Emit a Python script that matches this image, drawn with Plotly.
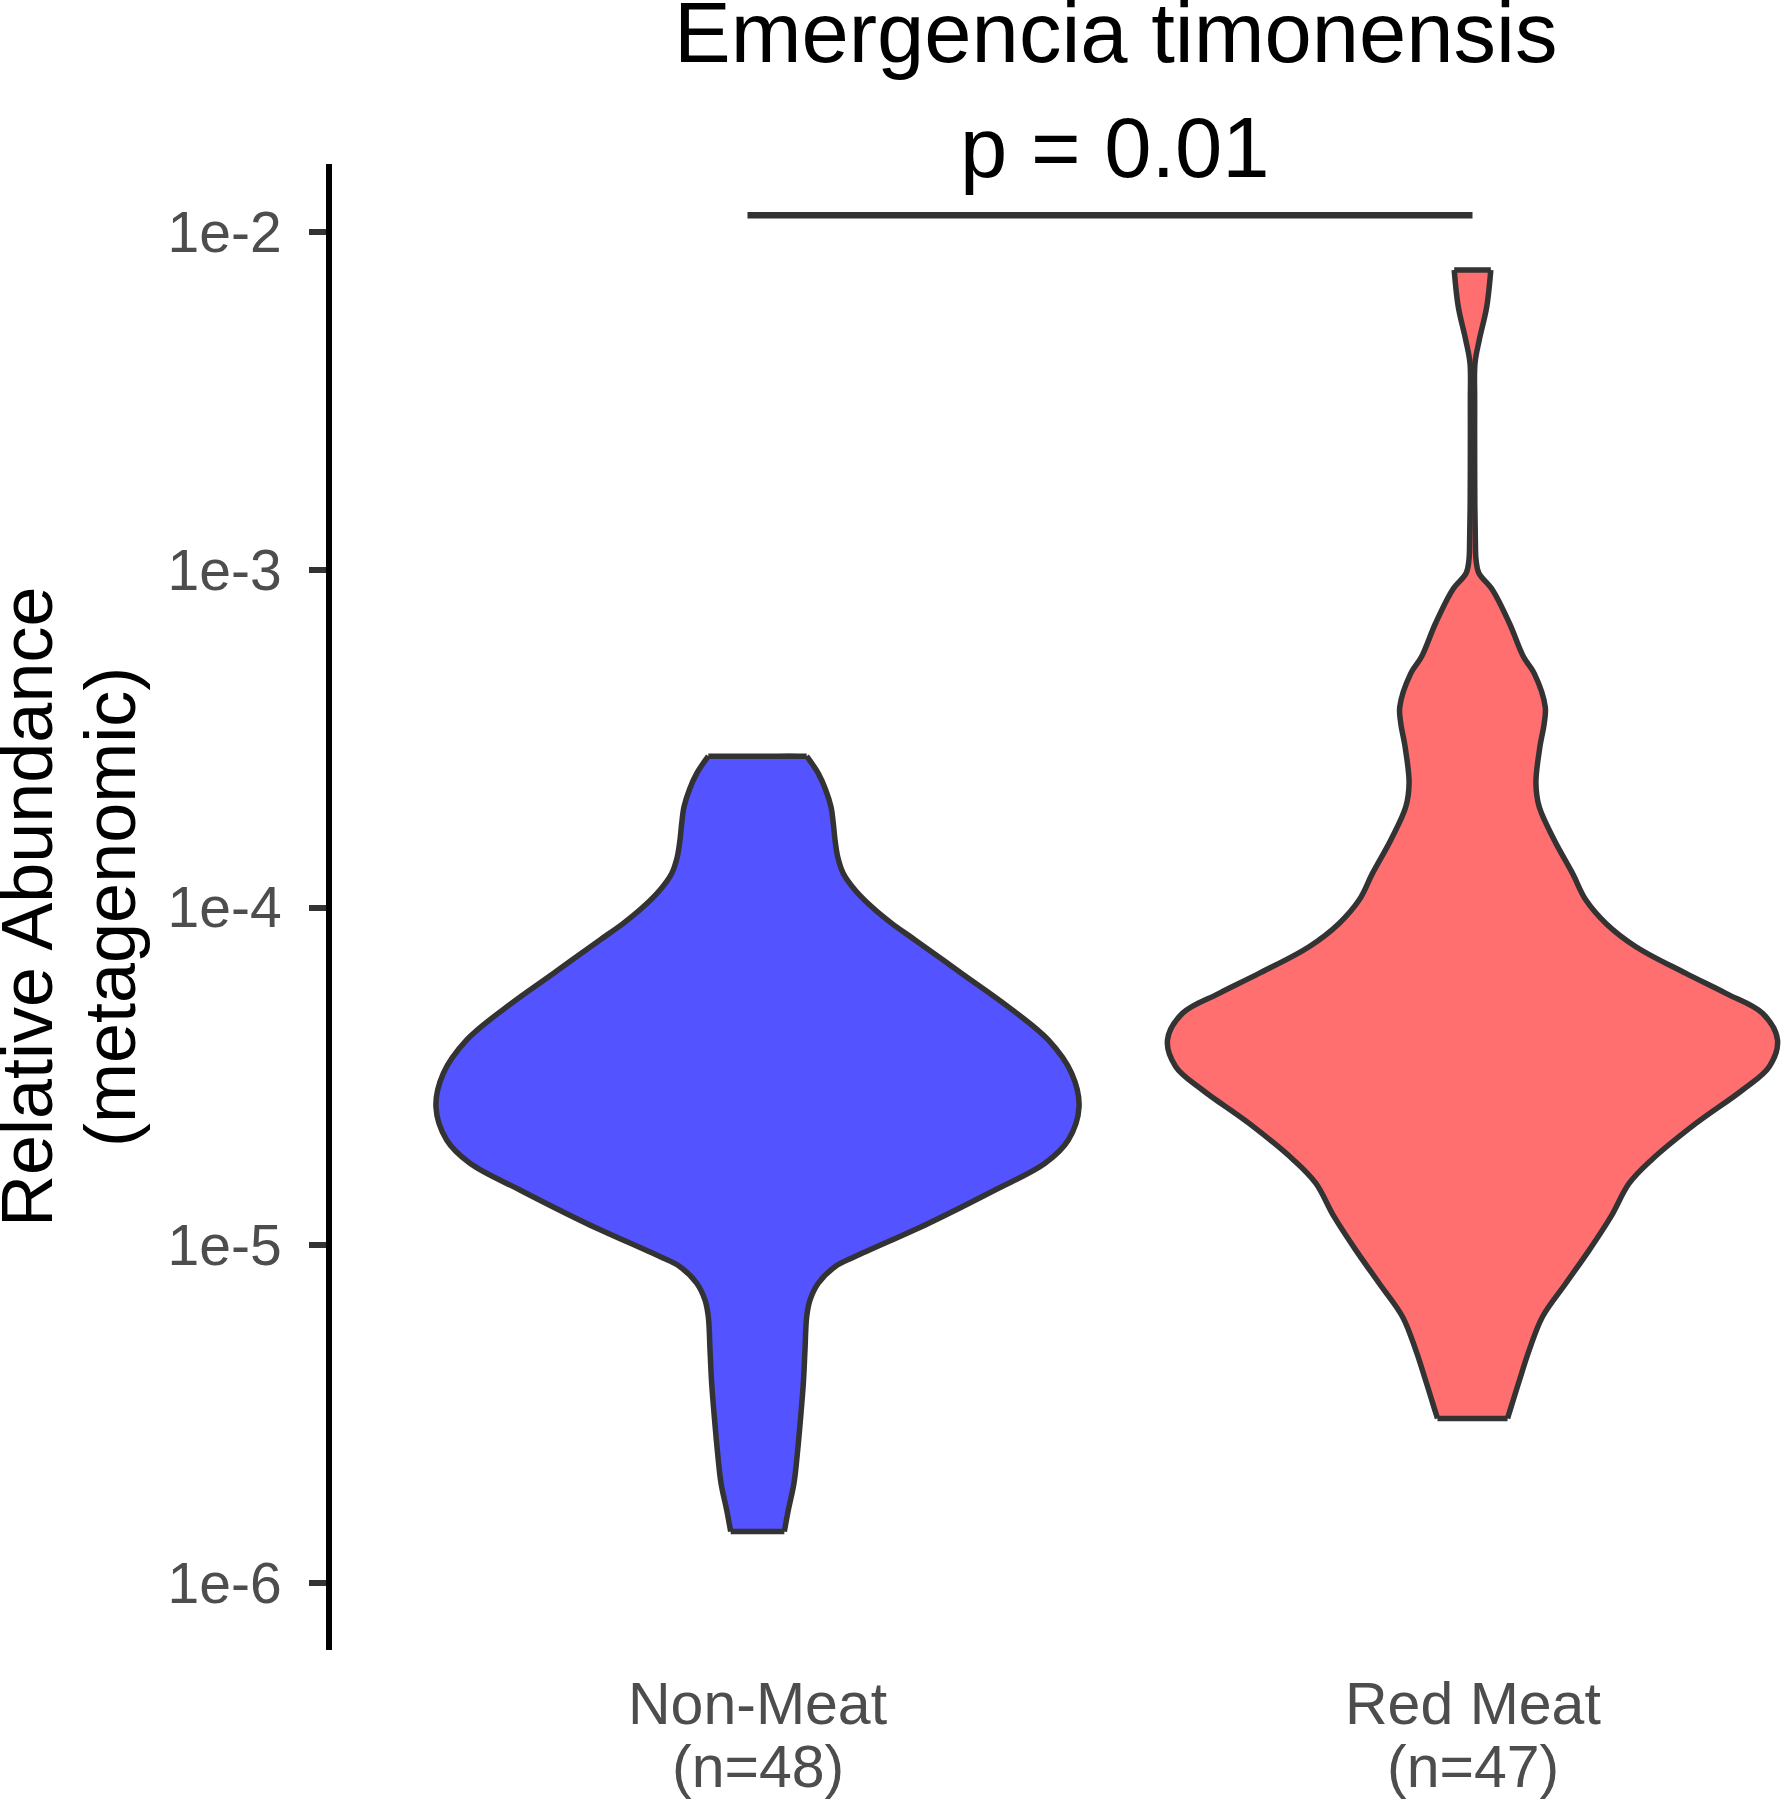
import plotly.graph_objects as go

# ---------------- data ----------------
categories = ["Non-Meat", "Red Meat"]
sample_sizes = [48, 47]
fill_colors = ["#5353FF", "#FF6F6F"]

# violin density profiles: log10(relative abundance) and half-width (category units)
nonmeat_log10 = [-3.552, -3.603, -3.652, -3.702, -3.751, -3.800, -3.850, -3.899, -3.948,
                 -3.998, -4.047, -4.096, -4.195, -4.294, -4.392, -4.491, -4.590, -4.688,
                 -4.757, -4.836, -4.935, -5.033, -5.063, -5.112, -5.162, -5.211, -5.310,
                 -5.408, -5.507, -5.606, -5.704, -5.783, -5.847]
nonmeat_halfwidth = [0.0688, 0.0850, 0.0954, 0.1028, 0.1060, 0.1084, 0.1122, 0.1200, 0.1364,
                     0.1597, 0.1877, 0.2203, 0.2856, 0.3508, 0.4067, 0.4394, 0.4497, 0.4347,
                     0.4021, 0.3322, 0.2389, 0.1364, 0.1084, 0.0850, 0.0734, 0.0688, 0.0664,
                     0.0641, 0.0604, 0.0562, 0.0510, 0.0431, 0.0375]

redmeat_log10 = [-2.113, -2.222, -2.320, -2.389, -2.498, -2.646, -2.794, -2.913, -2.972,
                 -3.010, -3.060, -3.158, -3.258, -3.307, -3.406, -3.455, -3.524, -3.632,
                 -3.702, -3.800, -3.899, -3.978, -4.047, -4.116, -4.195, -4.254, -4.313,
                 -4.392, -4.471, -4.540, -4.639, -4.747, -4.816, -4.915, -5.014, -5.112,
                 -5.211, -5.310, -5.408, -5.512]
redmeat_halfwidth = [0.0256, 0.0199, 0.0095, 0.0035, 0.0030, 0.0030, 0.0032, 0.0040, 0.0050,
                     0.0088, 0.0280, 0.0515, 0.0713, 0.0863, 0.1017, 0.1003, 0.0943, 0.0887,
                     0.0933, 0.1143, 0.1399, 0.1586, 0.1866, 0.2285, 0.2985, 0.3544, 0.4056,
                     0.4266, 0.4150, 0.3776, 0.3124, 0.2503, 0.2192, 0.1936, 0.1632, 0.1306,
                     0.0979, 0.0793, 0.0643, 0.0490]

title_text = "Emergencia timonensis"
p_label = "p = 0.01"
bracket_log10 = -1.951
bracket_start = 0.986
bracket_end = 2.0

ytick_vals = [1e-6, 1e-5, 1e-4, 1e-3, 1e-2]
ytick_text = ["1e-6", "1e-5", "1e-4", "1e-3", "1e-2"]
ytitle_lines = ["Relative Abundance", "(metagenomic)"]

# ---------------- figure ----------------
FONT = "Liberation Sans, Arial, sans-serif"
OUTLINE = "#333333"
SMOOTH = 1.0
fig = go.Figure()

profiles = [(nonmeat_log10, nonmeat_halfwidth), (redmeat_log10, redmeat_halfwidth)]
for i, (logs, widths) in enumerate(profiles):
    pos = i + 1
    ys = [10 ** v for v in logs]
    right = [pos + w for w in widths]
    left = [pos - w for w in widths]
    # fill: top-middle -> right side -> bottom-middle -> left side (flat ends pinned)
    fx = [pos] + right + [pos] + left[::-1]
    fy = [ys[0]] + ys + [ys[-1]] + ys[::-1]
    fig.add_trace(go.Scatter(
        x=fx, y=fy, mode="lines", fill="toself",
        fillcolor=fill_colors[i], line=dict(width=0, shape="spline", smoothing=SMOOTH),
        hoverinfo="skip", showlegend=False))
    ox = right + [None] + left + [None] + [left[0], right[0]] + [None] + [left[-1], right[-1]]
    oy = ys + [None] + ys + [None] + [ys[0], ys[0]] + [None] + [ys[-1], ys[-1]]
    fig.add_trace(go.Scatter(
        x=ox, y=oy, mode="lines", connectgaps=False,
        line=dict(color=OUTLINE, width=5.5, shape="spline", smoothing=SMOOTH),
        hoverinfo="skip", showlegend=False))

fig.add_trace(go.Scatter(
    x=[bracket_start, bracket_end], y=[10 ** bracket_log10] * 2, mode="lines",
    line=dict(color=OUTLINE, width=6.5), hoverinfo="skip", showlegend=False))

W, H = 1785, 1800
ML, MR, MT, MB = 332, 0, 164, 150
plot_w = W - ML - MR
plot_h = H - MT - MB
px_per_unit = 715.0
x0 = 1 - (757.5 - ML) / px_per_unit
x1 = x0 + plot_w / px_per_unit
ytop = -1.7996
ybot = ytop - plot_h / 337.9


def paper_y(px):
    return (H - MB - px) / plot_h


def paper_x(px):
    return (px - ML) / plot_w


annotations = [
    dict(text=title_text, x=1.5, xref="x", y=paper_y(32), yref="paper",
         xanchor="center", yanchor="middle", showarrow=False,
         font=dict(family=FONT, size=85, color="black")),
    dict(text=p_label, x=1.5, xref="x", y=paper_y(147.5), yref="paper",
         xanchor="center", yanchor="middle", showarrow=False,
         font=dict(family=FONT, size=85, color="black")),
]
for i, cat in enumerate(categories):
    annotations.append(dict(text=cat, x=i + 1, xref="x", y=paper_y(1704), yref="paper",
                            xanchor="center", yanchor="middle", showarrow=False,
                            font=dict(family=FONT, size=59, color="#4d4d4d")))
    annotations.append(dict(text=f"(n={sample_sizes[i]})", x=i + 1, xref="x", y=paper_y(1767),
                            yref="paper", xanchor="center", yanchor="middle", showarrow=False,
                            font=dict(family=FONT, size=59, color="#4d4d4d")))
for px, line in zip([27, 110], ytitle_lines):
    annotations.append(dict(text=line, x=paper_x(px), xref="paper", y=0.5, yref="paper",
                            xanchor="center", yanchor="middle", textangle=-90, showarrow=False,
                            font=dict(family=FONT, size=72, color="black")))

fig.update_layout(
    width=W, height=H,
    margin=dict(l=ML, r=MR, t=MT, b=MB, pad=0),
    plot_bgcolor="white", paper_bgcolor="white",
    showlegend=False,
    hovermode=False,
    annotations=annotations,
    xaxis=dict(range=[x0, x1], showgrid=False, zeroline=False, showline=False,
               showticklabels=False, ticks=""),
    yaxis=dict(type="log", range=[ybot, ytop], showgrid=False, zeroline=False,
               showline=True, linecolor="black", linewidth=6,
               ticks="outside", ticklen=17, tickwidth=6, tickcolor=OUTLINE,
               tickvals=ytick_vals, ticktext=ytick_text, ticklabelstandoff=16,
               tickfont=dict(family=FONT, size=57, color="#4d4d4d")),
)

fig.write_html(
    "out.html",
    config={"displayModeBar": False, "staticPlot": True},
    post_script="document.body.style.margin='0';document.body.style.overflow='hidden';",
)
